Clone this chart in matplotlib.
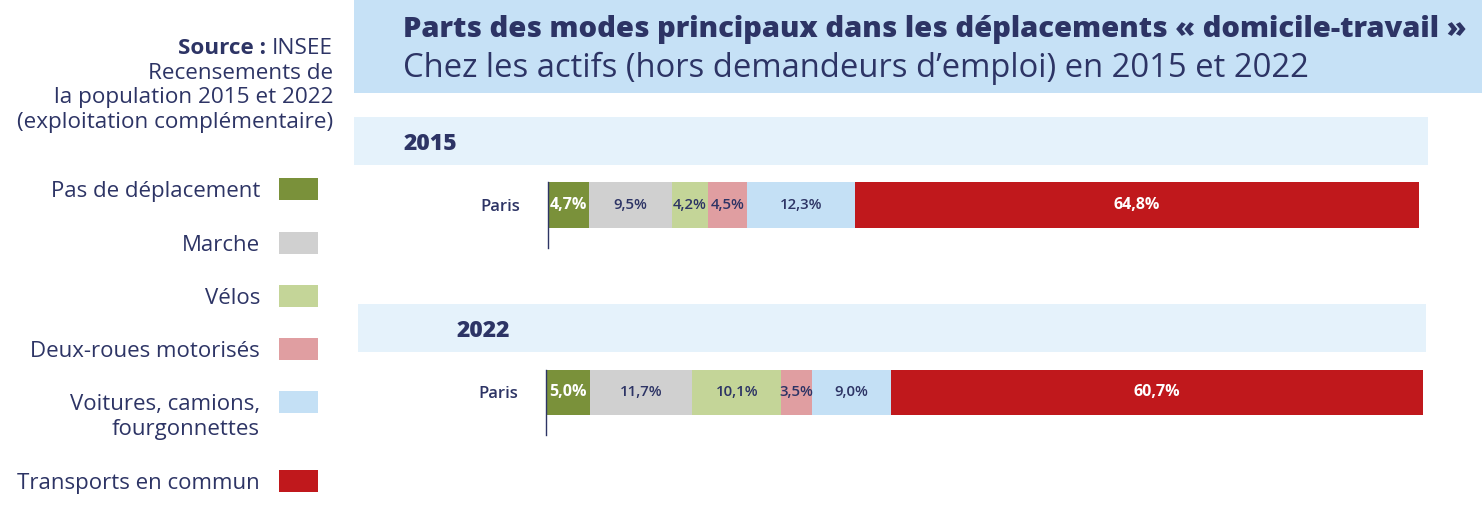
import matplotlib
matplotlib.use("Agg")
import matplotlib.pyplot as plt
from matplotlib.patches import Rectangle

# ---- data ----
modes = ["Pas de déplacement", "Marche", "Vélos", "Deux-roues motorisés",
         "Voitures, camions,\nfourgonnettes", "Transports en commun"]
colors = ["#7a913a", "#d0d0d0", "#c4d598", "#e09ea1", "#c4e0f5", "#c0181c"]
label_colors = ["white", "#2d3465", "#2d3465", "#2d3465", "#2d3465", "white"]
years = ["2015", "2022"]
city = ["Paris"]
values_2015 = [4.7, 9.5, 4.2, 4.5, 12.3, 64.8]
values_2022 = [5.0, 11.7, 10.1, 3.5, 9.0, 60.7]
title = "Parts des modes principaux dans les déplacements « domicile-travail »"
subtitle = "Chez les actifs (hors demandeurs d\u2019emploi) en 2015 et 2022"
source_bold = "Source : "
source_lines = ["INSEE", "Recensements de", "la population 2015 et 2022",
                "(exploitation complémentaire)"]

W, H = 1482, 519
NAVY = "#2d3465"
FONT = "Open Sans"
plt.rcParams['font.family'] = [FONT, 'DejaVu Sans']

fig = plt.figure(figsize=(W / 100, H / 100), dpi=100)
renderer = fig.canvas.get_renderer()

def fx(x):
    return x / W

def fy(y):
    return 1 - y / H

def rect(x0, y0, x1, y1, color):
    fig.patches.append(Rectangle((fx(x0), fy(y1)), fx(x1) - fx(x0), (y1 - y0) / H,
                                 transform=fig.transFigure, color=color, zorder=0, lw=0))

def fit(t, target_px):
    w = t.get_window_extent(renderer).width
    t.set_fontsize(t.get_fontsize() * target_px / w)
    return t.get_fontsize()

# background bands
rect(354, 0, 1482, 93, "#c6e1f6")
rect(354, 117, 1428, 165, "#e5f2fb")
rect(358, 304, 1426, 352, "#e5f2fb")

# title
tt = fig.text(fx(403), fy(37), title, fontsize=20, fontweight=800, color=NAVY,
              ha="left", va="baseline")
fit(tt, 1065)
ts = fig.text(fx(403), fy(77), subtitle, fontsize=23, fontweight="normal", color=NAVY,
              ha="left", va="baseline")
fit(ts, 909)

# source
probe = fig.text(0, 0, source_lines[-1], fontsize=15)
SRC_FS = fit(probe, 316)
probe.remove()
t0 = fig.text(fx(333), fy(54), source_lines[0], fontsize=SRC_FS, color=NAVY,
              ha="right", va="baseline")
bb = t0.get_window_extent(renderer)
fig.text(bb.x0 / W, fy(54), source_bold, fontsize=SRC_FS, color=NAVY,
         fontweight="bold", ha="right", va="baseline")
for i, s in enumerate(source_lines[1:]):
    fig.text(fx(333), fy(79 + 24.5 * i), s, fontsize=SRC_FS, color=NAVY,
             ha="right", va="baseline")

# legend
LEG_FS = 16
leg_y = [189, 243, 296, 349, 402, 481]
for m, c, yy in zip(modes, colors, leg_y):
    rect(279, yy - 11, 318, yy + 11, c)
    for j, line in enumerate(m.split("\n")):
        fig.text(fx(260), fy(yy + 25 * j), line, fontsize=LEG_FS, color=NAVY,
                 ha="right", va="center_baseline")

# year labels
fig.text(fx(404), fy(141), years[0], fontsize=16.5, fontweight=800, color=NAVY,
         ha="left", va="center_baseline")
fig.text(fx(457), fy(328), years[1], fontsize=16.5, fontweight=800, color=NAVY,
         ha="left", va="center_baseline")

def bar_axes(x0, x1, ytop, ybot, yline, vals):
    ax = fig.add_axes([fx(x0), fy(yline), fx(x1) - fx(x0), (yline - ytop) / H])
    barh_frac = (ybot - ytop) / (yline - ytop)
    left = 0
    for v, c, lc in zip(vals, colors, label_colors):
        ax.barh(city, [v], left=[left], color=c, height=1.0)
        txt = f"{v:.1f}%".replace(".", ",")
        white = lc == "white"
        ax.text(left + v / 2, 0, txt, ha="center", va="center",
                fontsize=11.5 if white else 10.8,
                color=lc, fontweight="bold" if white else "semibold")
        left += v
    ax.set_xlim(0, 100)
    ax.set_ylim(0.5 - 1 / barh_frac, 0.5)
    for s in ["top", "right", "bottom"]:
        ax.spines[s].set_visible(False)
    ax.spines["left"].set_color(NAVY)
    ax.spines["left"].set_linewidth(1)
    ax.set_xticks([])
    ax.tick_params(axis="y", length=0, pad=20, labelsize=12, labelcolor=NAVY)
    for t in ax.get_yticklabels():
        t.set_fontweight("semibold")
    return ax

bar_axes(548, 1419, 182, 228, 248, values_2015)
bar_axes(546, 1423, 370, 415, 435, values_2022)

fig.savefig("out.png", dpi=100)
